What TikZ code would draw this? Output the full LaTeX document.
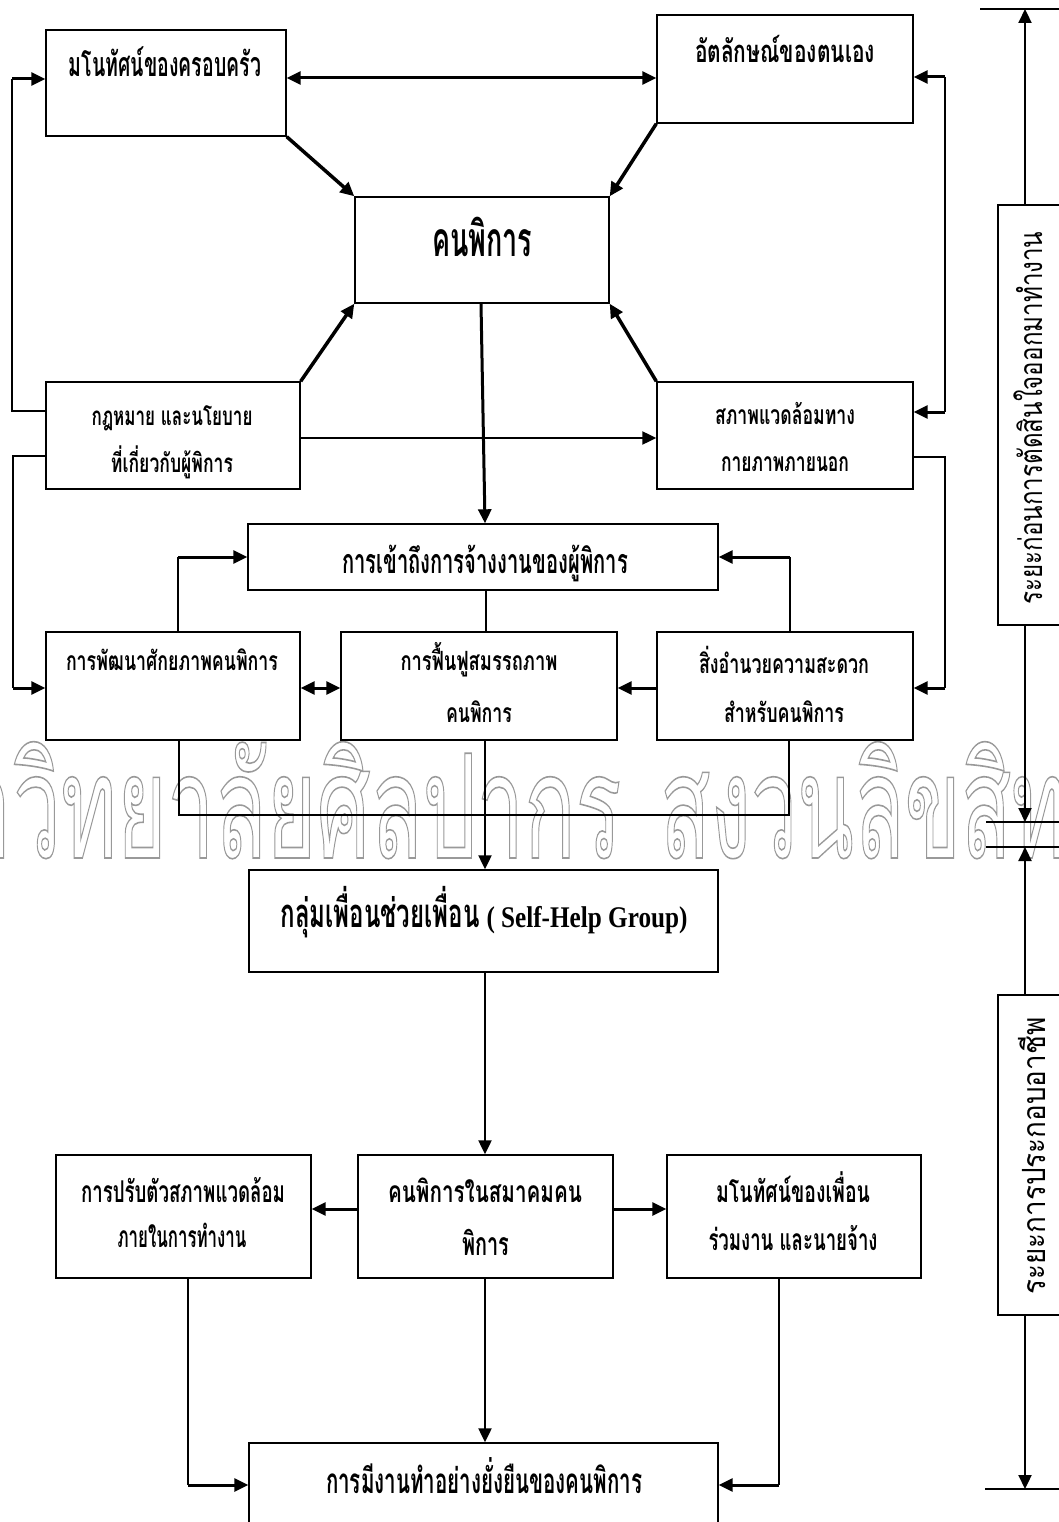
\documentclass[tikz,border=0pt]{standalone}
\usepackage{fontspec}
\usepackage{graphicx}
\usetikzlibrary{arrows.meta,fit}
\newfontfamily\thaifont[Script=Thai]{Loma}
\newfontfamily\latfont{Liberation Serif}
\newcommand\fw[2]{\resizebox{#1pt}{\height}{#2}}
\newcommand\fsz[1]{\fontsize{#1pt}{#1pt}\selectfont}
\tikzset{
  box/.style={draw, line width=1.4pt, inner sep=0pt},
  lbl/.style={inner sep=0pt, anchor=base, font=\thaifont\bfseries\fsz{#1}},
  rlbl/.style={inner sep=0pt, anchor=base, rotate=90, font=\thaifont\fsz{#1}},
  thn/.style={line width=1.5pt},
  med/.style={line width=2.2pt},
  thk/.style={line width=3pt},
  dia/.style={line width=3.5pt},
  >={Triangle[length=14pt,width=13pt]},
}
\begin{document}
\begin{tikzpicture}[x=1pt,y=-1pt]
\useasboundingbox (0,0) rectangle (1059,1522);
\fill[white] (0,0) rectangle (1059,1522);
% watermark
\node[inner sep=0pt, anchor=base west, font=\thaifont\fsz{145}, text=black!40] (wm) at (13,858)
 {\smash{\special{pdf:literal direct 1 Tr 1.6 w}\llap{\fw{150}{มหา}\hspace{2pt}}\fw{608}{วิทยาลัยศิลปากร}\hspace{39pt}\fw{456}{สงวนลิขสิทธิ์}\special{pdf:literal direct 0 Tr}}};
% boxes
\node[box, fit={(46,30)(286,136)}] (b1) {};
\node[box, fit={(657,15)(913,123)}] (b2) {};
\node[box, fit={(355,197)(609,303)}] (b3) {};
\node[box, fit={(46,382)(300,489)}] (b4) {};
\node[box, fit={(657,382)(913,489)}] (b5) {};
\node[box, fit={(248,524)(718,590)}] (b6) {};
\node[box, fit={(46,632)(300,740)}] (b7) {};
\node[box, fit={(341,632)(617,740)}] (b8) {};
\node[box, fit={(657,632)(913,740)}] (b9) {};
\node[box, fit={(249,870)(718,972)}] (b10) {};
\node[box, fit={(56,1155)(311,1278)}] (b11) {};
\node[box, fit={(358,1155)(613,1278)}] (b12) {};
\node[box, fit={(667,1155)(921,1278)}] (b13) {};
\node[box, fit={(249,1443)(718,1545)}] (b14) {};
\node[box, fit={(998,205)(1080,625)}] (bA) {};
\node[box, fit={(998,995)(1080,1315)}] (bB) {};
% labels
\node[lbl=34] (t1) at (165,77) {\fw{192}{มโนทัศน์ของครอบครัว}};
\node[lbl=31] (t2) at (785,63) {\fw{180}{อัตลักษณ์ของตนเอง}};
\node[lbl=48] (t3) at (482,257) {\fw{100}{คนพิการ}};
\node[lbl=26] (t4a) at (172,425) {\fw{161}{กฎหมาย และนโยบาย}};
\node[lbl=26] (t4b) at (172,472) {\fw{122}{ที่เกี่ยวกับผู้พิการ}};
\node[lbl=26.5] (t5a) at (785,424) {\fw{140}{สภาพแวดล้อมทาง}};
\node[lbl=26.5] (t5b) at (785,471) {\fw{128}{กายภาพภายนอก}};
\node[lbl=34] (t6) at (485,573) {\fw{286}{การเข้าถึงการจ้างงานของผู้พิการ}};
\node[lbl=26.5] (t7) at (172,670) {\fw{212}{การพัฒนาศักยภาพคนพิการ}};
\node[lbl=26.5] (t8a) at (479,670) {\fw{157}{การฟื้นฟูสมรรถภาพ}};
\node[lbl=26.5] (t8b) at (479,722) {\fw{66}{คนพิการ}};
\node[lbl=26.5] (t9a) at (784,673) {\fw{170}{สิ่งอำนวยความสะดวก}};
\node[lbl=26.5] (t9b) at (784,722) {\fw{120}{สำหรับคนพิการ}};
\node[lbl=40] (t10) at (484,927) {\fw{199}{กลุ่มเพื่อนช่วยเพื่อน}\hspace{7pt}{\latfont\bfseries\fsz{30}\fw{201}{( Self-Help Group)}}};
\node[lbl=30] (t11a) at (183,1202) {\fw{204}{การปรับตัวสภาพแวดล้อม}};
\node[lbl=30] (t11b) at (182,1247) {\fw{129}{ภายในการทำงาน}};
\node[lbl=30] (t12a) at (485,1202) {\fw{194}{คนพิการในสมาคมคน}};
\node[lbl=32] (t12b) at (486,1255) {\fw{47}{พิการ}};
\node[lbl=30] (t13a) at (793,1202) {\fw{154}{มโนทัศน์ของเพื่อน}};
\node[lbl=30] (t13b) at (793,1250) {\fw{169}{ร่วมงาน และนายจ้าง}};
\node[lbl=35] (t14) at (484,1493) {\fw{316}{การมีงานทำอย่างยั่งยืนของคนพิการ}};
\node[rlbl=32] (tA) at (1042,418) {\fw{373}{ระยะก่อนการตัดสินใจออกมาทำงาน}};
\node[rlbl=32] (tB) at (1045,1156) {\fw{277}{ระยะการประกอบอาชีพ}};
% helper coordinates
\coordinate (cL1) at (12,79);
\coordinate (cL2) at (12,411);
\coordinate (cL3) at (13,456);
\coordinate (cL4) at (13,688);
\coordinate (cR1) at (945,77);
\coordinate (cR2) at (945,412);
\coordinate (cR3) at (945,457);
\coordinate (cR4) at (945,688);
\coordinate (c7) at (178,557);
\coordinate (c9) at (790,557);
\coordinate (cB7) at (179,815);
\coordinate (cB9) at (789,815);
\coordinate (c11) at (188,1485);
\coordinate (c13) at (779,1485);
\coordinate (tk1a) at (980,9);  \coordinate (tk1b) at (1070,9);  \coordinate (tA1) at (1025,9);
\coordinate (tk2a) at (986,822); \coordinate (tk2b) at (1070,822); \coordinate (tA2) at (1025,822);
\coordinate (tk3a) at (986,847); \coordinate (tk3b) at (1070,847); \coordinate (tB1) at (1025,847);
\coordinate (tk4a) at (985,1489); \coordinate (tk4b) at (1070,1489); \coordinate (tB2) at (1025,1489);
% connectors
\draw[thk,<->] (b1.east |- 0,78) -- (b2.west |- 0,78);
\draw[thn] (b4.west |- cL2) -- (cL2) -- (cL1);
\draw[thk,->] (cL1) -- (b1.west |- cL1);
\draw[thn] (b4.west |- cL3) -- (cL3) -- (cL4);
\draw[thk,->] (cL4) -- (b7.west |- cL4);
\draw[thn] (cR1) -- (cR2);
\draw[thk,->] (cR1) -- (b2.east |- cR1);
\draw[thk,->] (cR2) -- (b5.east |- cR2);
\draw[thn] (b5.east |- cR3) -- (cR3) -- (cR4);
\draw[thk,->] (cR4) -- (b9.east |- cR4);
\draw[dia,->] (b1.south east) -- (b3.north west);
\draw[dia,->] (b2.south west) -- (b3.north east);
\draw[dia,->] (b4.north east) -- (b3.south west);
\draw[dia,->] (b5.north west) -- (b3.south east);
\draw[med,->] (b4.east |- 0,438) -- (b5.west |- 0,438);
\draw[thk,->] (b3.south -| 481,0) -- (b6.north -| 485,0);
\draw[thn] (b7.north -| c7) -- (c7);
\draw[thk,->] (c7) -- (b6.west |- c7);
\draw[thn] (b9.north -| c9) -- (c9);
\draw[thk,->] (c9) -- (b6.east |- c9);
\draw[thn] (b6.south -| 486,0) -- (b8.north -| 486,0);
\draw[thk,<->] (b7.east |- 0,688) -- (b8.west |- 0,688);
\draw[thk,->] (b9.west |- 0,688) -- (b8.east |- 0,688);
\draw[thn] (b7.south -| cB7) -- (cB7) -- (cB9) -- (b9.south -| cB9);
\draw[med,->] (b8.south -| 485,0) -- (b10.north -| 485,0);
\draw[med,->] (b10.south -| 485,0) -- (b12.north -| 485,0);
\draw[thk,->] (b12.west |- 0,1209) -- (b11.east |- 0,1209);
\draw[thk,->] (b12.east |- 0,1209) -- (b13.west |- 0,1209);
\draw[med,->] (b12.south -| 485,0) -- (b14.north -| 485,0);
\draw[thn] (b11.south -| c11) -- (c11);
\draw[thk,->] (c11) -- (b14.west |- c11);
\draw[thn] (b13.south -| c13) -- (c13);
\draw[thk,->] (c13) -- (b14.east |- c13);
% right-hand scale
\draw[thn] (tk1a) -- (tk1b);
\draw[thn] (tk2a) -- (tk2b);
\draw[thn] (tk3a) -- (tk3b);
\draw[thn] (tk4a) -- (tk4b);
\draw[med,->] (bA.north -| tA1) -- (tA1);
\draw[med,->] (bA.south -| tA2) -- (tA2);
\draw[med,->] (bB.north -| tB1) -- (tB1);
\draw[med,->] (bB.south -| tB2) -- (tB2);
\end{tikzpicture}
\end{document}
